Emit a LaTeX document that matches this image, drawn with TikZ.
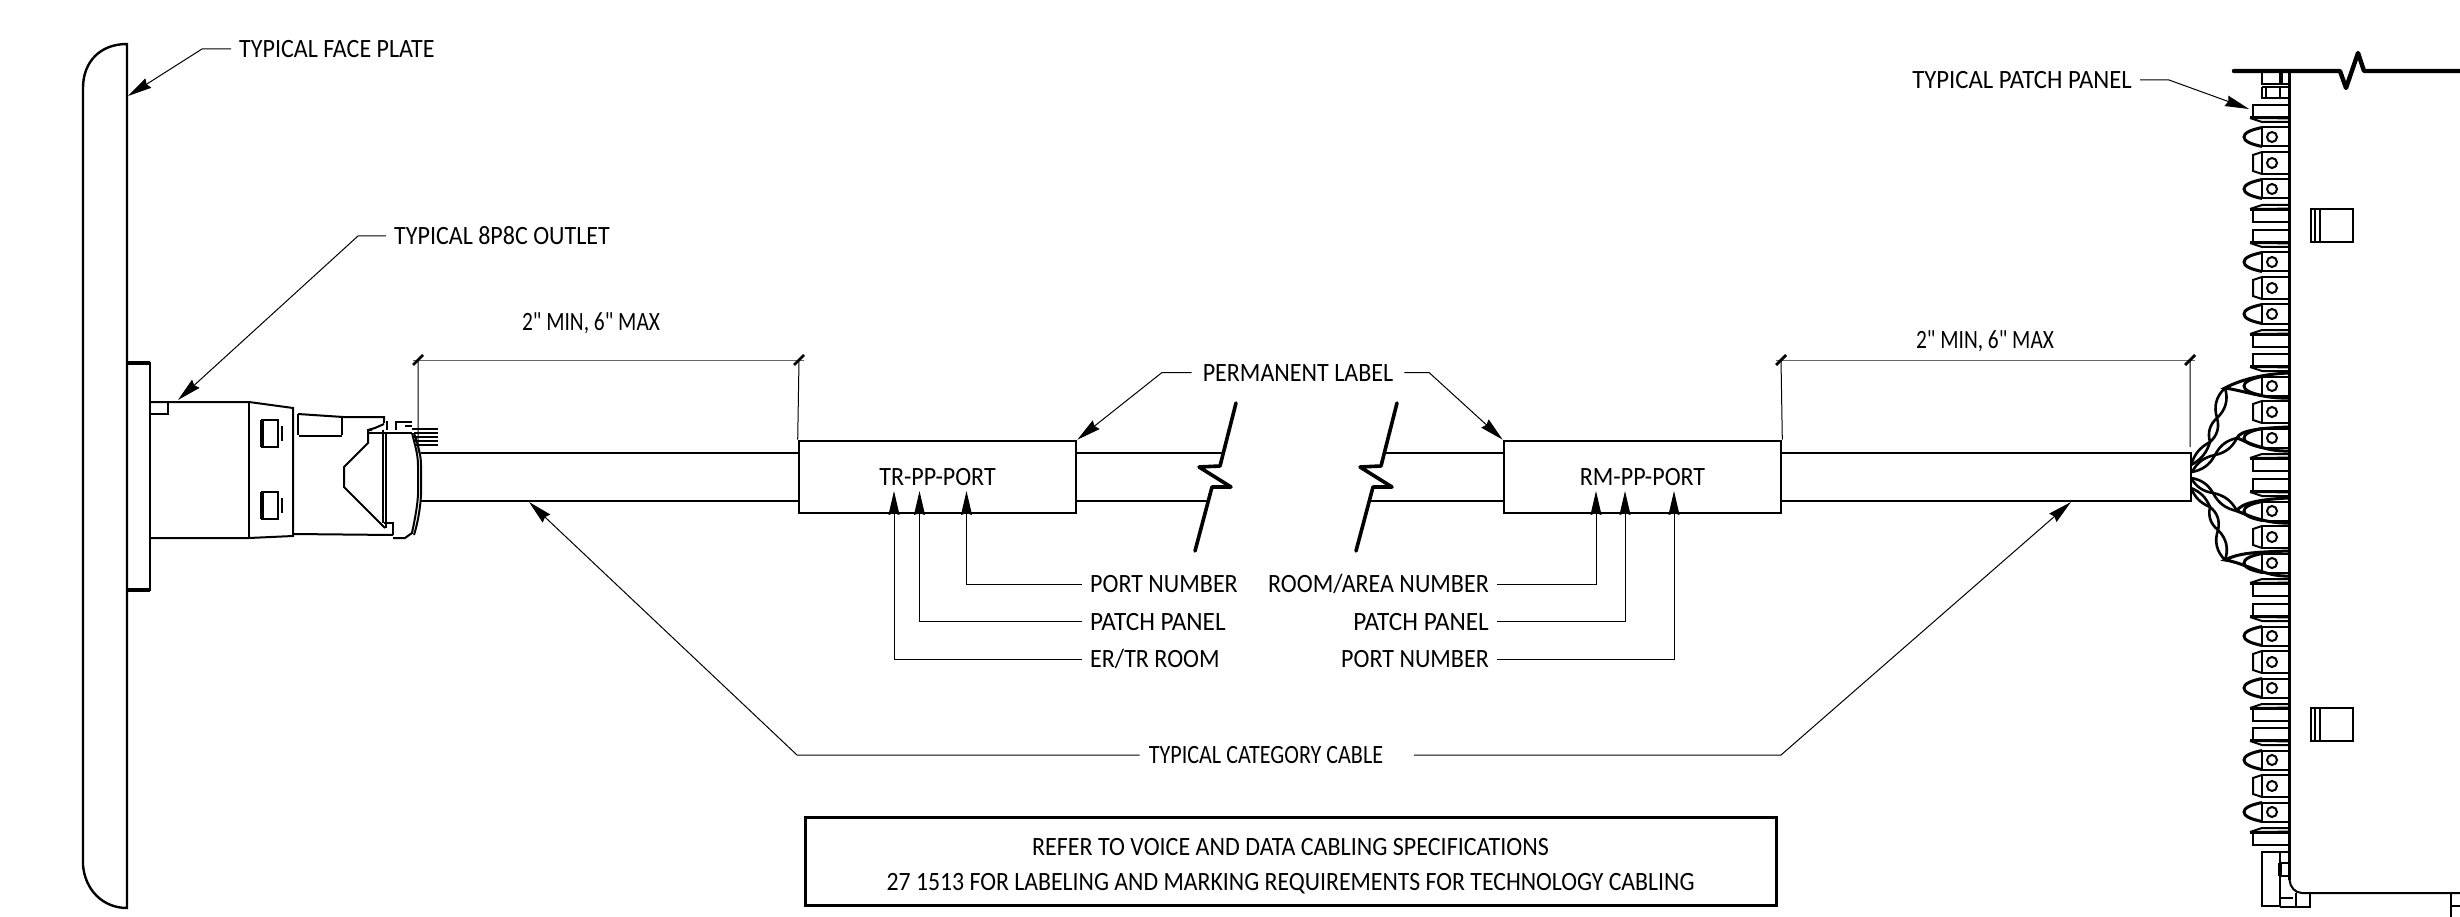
\documentclass[tikz,border=0pt]{standalone}
\usepackage{fontspec}
\setmainfont{Carlito}[Ligatures=TeXOff,FakeStretch=0.91]
\usetikzlibrary{arrows.meta}
\tikzset{
  lbl/.style={inner xsep=8pt,inner ysep=2pt,text height=17pt,text depth=0pt,font=\fontsize{26.4}{30}\selectfont},
  leader/.style={line width=1pt,-{Stealth[length=24pt,width=11pt,inset=2pt]}},
  plain/.style={line width=1pt},
  part/.style={line width=2pt,line join=miter},
  heavy/.style={line width=3.6pt,line join=round,line cap=round},
  labelbox/.style={draw,line width=2.6pt,minimum width=277pt,minimum height=72pt,inner sep=0pt,font=\fontsize{26.4}{30}\selectfont,text height=17pt,text depth=0pt},
  notebox/.style={draw,line width=3pt,minimum width=971pt,minimum height=88pt,inner sep=0pt},
  moda/.pic={\draw[part] (2289,-6) -- (2253,-6) -- (2253,6) -- (2289,6);
    \draw[part] (2250,7) -- (2262,11) -- (2289,11); \draw[line width=2.8pt] (2250,6.5) -- (2289,7);},
  modb/.pic={\draw[part] (2289,-9.5) -- (2262,-9.5) -- (2262,9.5) -- (2289,9.5);
    \draw[line width=3pt] (2262,-9.5) .. controls (2250,-7) and (2244,-4) .. (2244,0) .. controls (2244,4) and (2250,7) .. (2262,9.5);
    \draw[part] (2272,0) circle[radius=5];},
  modc/.pic={\draw[part] (2289,-11) -- (2262,-11) -- (2262,11) -- (2289,11);
    \draw[part] (2262,-11) -- (2253,-8) -- (2253,8) -- (2262,11);
    \draw[part] (2272,0) circle[radius=5];}
}
\begin{document}
\begin{tikzpicture}[x=1pt,y=-1pt]
\useasboundingbox (0,0) rectangle (2460,917);

% face plate
\draw[line width=2.4pt] (127,44) .. controls (100,44) and (83,62) .. (83,88) -- (83,865) .. controls (85,890) and (103,908) .. (127,908) -- cycle;
\draw[part] (127,363) -- (149.5,363) -- (149.5,590) -- (127,590);
\draw[line width=3.4pt] (127,363) -- (149.5,363) (127,590) -- (149.5,590);

% outlet
\draw[part] (150,402) -- (249,402) -- (293,408) -- (293,536) -- (249,538) -- (150,538);
\draw[part] (249,402) -- (249,538);
\draw[part] (150,414) -- (168,414) -- (168,402);
\draw[line width=2.4pt] (262,420) rectangle (278,447) (262,492) rectangle (278,519);
\draw[line width=3.6pt] (262,420) -- (262,447) (262,492) -- (262,519);
\draw[line width=2.8pt] (282,426) -- (282,441) (282,498) -- (282,513);
\draw[line width=2.8pt] (298,414) -- (298,435) (342,417) -- (342,435) (299,436) -- (342,436);
\draw[part] (298,414) -- (343,417) -- (384,417) -- (384,423);
\draw[part] (383,430) -- (383,523) (386,433) -- (386,528);
\draw[part] (293,534) -- (393,535);
\draw[part] (372,430) -- (368,430) -- (368,443) -- (344,467) -- (344,487) -- (385,528);
\draw[part] (368,430) -- (375,428) -- (384,424);
\draw[part] (368,433) -- (412,433);
\draw[part] (387,421) -- (387,430) (396,421) -- (396,430) (396,422) -- (412,422) (405,426) -- (412,426);
\draw[part] (412,433) .. controls (415,445) and (418,455) .. (418,465) -- (418,495) .. controls (417,510) and (414,523) .. (412,533) -- (405,538) -- (393,538);
\draw[part] (414,433) .. controls (418,445) and (421,455) .. (421,465) -- (421,495) .. controls (420,512) and (417,525) .. (414,535);
\draw[part] (384,523) -- (393,523) -- (393,535);
\draw[line width=2.8pt] (412,429) -- (438,429) (414,433) -- (438,433) (414,437) -- (438,437) (414,441) -- (438,441) (416,445) -- (438,445);

% cables
\node[labelbox] (tr) at (937.5,477) {TR-PP-PORT};
\node[labelbox] (rm) at (1642.5,477) {RM-PP-PORT};
\draw[part] (421,452.5) -- (tr.west |- 0,452.5) (421,500.5) -- (tr.west |- 0,500.5);
\draw[part] (tr.east |- 0,452.5) -- (1224,452.5) (tr.east |- 0,500.5) -- (1208,500.5);
\draw[part] (rm.west |- 0,452.5) -- (1385,452.5) (rm.west |- 0,500.5) -- (1369,500.5);
\draw[part] (rm.east |- 0,452.5) -- (2191,452.5) -- (2191,500.5) -- (rm.east |- 0,500.5);

% break marks
\draw[heavy] (1236,403) -- (1220,466) -- (1199,467) -- (1231,487) -- (1212,487) -- (1195,551);
\draw[heavy] (1397,403) -- (1381,466) -- (1360,467) -- (1392,487) -- (1373,487) -- (1356,551);

% dimensions
\coordinate (d1a) at (418,360); \coordinate (d1b) at (799,360);
\coordinate (d2a) at (1781,360); \coordinate (d2b) at (2190,360);
\draw[plain,black!60] ([xshift=-5pt]d1a) -- ([xshift=5pt]d1b);
\draw[plain,black!60] ([xshift=-5pt]d2a) -- ([xshift=5pt]d2b);
\draw[plain] (d1a) -- (418,453) (d1b) -- (tr.north west) (d2a) -- (rm.north east) (d2b) -- (2190,447);
\foreach \c in {d1a,d1b,d2a,d2b}
  \draw[line width=2.8pt] ([shift={(-5,5)}]\c) -- ([shift={(5,-5)}]\c);
\node[lbl] (dim1) at (591,322) {\scalebox{0.89}[1]{2" MIN, 6" MAX}};
\node[lbl] (dim2) at (1985,340) {\scalebox{0.89}[1]{2" MIN, 6" MAX}};

% labels and leaders
\node[lbl,anchor=west] (face) at (231,49) {TYPICAL FACE PLATE};
\coordinate (faceb) at (202,49); \coordinate (facet) at (128,96);
\draw[leader] (face.west) -- (faceb) -- (facet);
\node[lbl,anchor=west] (outl) at (386,236) {TYPICAL 8P8C OUTLET};
\coordinate (outb) at (358,236); \coordinate (outt) at (178,400);
\draw[leader] (outl.west) -- (outb) -- (outt);
\node[lbl,anchor=east] (ppl) at (2140,80) {\scalebox{1.03}[1]{TYPICAL PATCH PANEL}};
\coordinate (ppb) at (2169,80); \coordinate (ppt) at (2249,109);
\draw[leader] (ppl.east) -- (ppb) -- (ppt);
\node[lbl,inner xsep=11pt] (perm) at (1298,372.5) {PERMANENT LABEL};
\coordinate (pb1) at (1162,372.5); \coordinate (pb2) at (1429,372.5);
\draw[leader] (perm.west) -- (pb1) -- (tr.north east);
\draw[leader] (perm.east) -- (pb2) -- (rm.north west);

\node[lbl,anchor=west] (l1) at (1082,584) {PORT NUMBER};
\node[lbl,anchor=west] (l2) at (1082,621.5) {\scalebox{1.05}[1]{PATCH PANEL}};
\node[lbl,anchor=west] (l3) at (1082,659) {ER/TR ROOM};
\coordinate (t1) at (966.5,491); \coordinate (t2) at (919.5,491); \coordinate (t3) at (894,491);
\draw[leader] (l1.west) -| (t1);
\draw[leader] (l2.west) -| (t2);
\draw[leader] (l3.west) -| (t3);
\node[lbl,anchor=east] (r1) at (1497,584) {ROOM/AREA NUMBER};
\node[lbl,anchor=east] (r2) at (1497,621.5) {\scalebox{1.05}[1]{PATCH PANEL}};
\node[lbl,anchor=east] (r3) at (1497,659) {PORT NUMBER};
\coordinate (u1) at (1596,491); \coordinate (u2) at (1625,491); \coordinate (u3) at (1674,491);
\draw[leader] (r1.east) -| (u1);
\draw[leader] (r2.east) -| (u2);
\draw[leader] (r3.east) -| (u3);

\node[lbl,inner xsep=9pt] (cat) at (1266,755) {\scalebox{0.92}[1]{TYPICAL CATEGORY CABLE}};
\coordinate (cb1) at (797,755); \coordinate (cb2) at (1781,755);
\coordinate (cs2) at (1414,755);
\coordinate (ct1) at (529,502); \coordinate (ct2) at (2071,502);
\draw[leader] (cat.west) -- (cb1) -- (ct1);
\draw[leader] (cs2) -- (cb2) -- (ct2);

\node[notebox] (note) at (1290.5,861) {};
\node[lbl,inner sep=0pt] (note1) at (1290.5,847) {REFER TO VOICE AND DATA CABLING SPECIFICATIONS};
\node[lbl,inner sep=0pt] (note2) at (1290.5,881.5) {\scalebox{0.99}[1]{27 1513 FOR LABELING AND MARKING REQUIREMENTS FOR TECHNOLOGY CABLING}};

% patch panel
\draw[line width=3.4pt] (2289.5,71) -- (2289.5,880);
\draw[part] (2289.5,880) .. controls (2290,887) and (2295,893) .. (2302,893) -- (2460,893);
\draw[part] (2451,893) -- (2451,906) -- (2460,906) (2451,906) -- (2451,917);
\draw[line width=4.4pt,line cap=round,line join=round] (2234,71) -- (2340,71) -- (2346,88) -- (2358,53) -- (2364,71) -- (2460,71);
\draw[part] (2262,71) -- (2262,84) -- (2280,84) -- (2280,71) (2282,71) -- (2282,84) -- (2289,84);
\draw[part] (2262,87) -- (2289,87) (2262,87) -- (2262,98) -- (2289,98) (2266,87) -- (2266,98) (2280,87) -- (2280,98);
\foreach \y in {111,236,360,485,610,734} {
  \pic at (0,\y) {moda};
  \pic at (0,\y+26) {modb};
  \pic at (0,\y+52) {modc};
  \pic at (0,\y+78) {modb};
  \pic[yscale=-1] at (0,\y+105) {moda};
}
\foreach \y in {209,708} {
  \draw[line width=2.8pt] (2311,\y) rectangle (2353,\y+33);
  \draw[part] (2315,\y) -- (2315,\y+33) (2320,\y) -- (2320,\y+33);
}
% panel foot
\draw[part] (2262,852) rectangle (2280,906);
\draw[part] (2280,852) -- (2289,852) (2280,863) -- (2289,863) (2280,876) -- (2289,876);
\draw[line width=3.4pt] (2280,863) -- (2280,876);
\draw[part] (2280,898) -- (2293,898) (2296,893) -- (2296,907) (2280,907) -- (2310,907) -- (2310,893);

% wire forks
\foreach \ax/\ay/\by/\cy in {2225/388/373/398, 2237/438/427/451, 2237/511/498/523, 2225/560/551/576} {
  \draw[line width=3pt] (2289,\by) .. controls (2262,\by+1) and (2240,\ay-8) .. (\ax,\ay) .. controls (2245,\ay+3) and (2265,\cy+1) .. (2289,\cy);
}
% twisted pairs
\tikzset{pair/.style={line width=2.6pt}}
\draw[pair] (2225,388) to[bend left=32] (2217,418) to[bend right=32] (2210,442) to[bend left=22] (2191,465);
\draw[pair] (2225,388) to[bend right=32] (2217,418) to[bend left=32] (2210,442) to[bend right=22] (2191,465);
\draw[pair] (2237,438) to[bend left=25] (2215,455) to[bend right=25] (2192,472);
\draw[pair] (2237,438) to[bend right=25] (2215,455) to[bend left=25] (2192,472);
\draw[pair] (2237,511) to[bend left=25] (2213,493) to[bend right=25] (2191,478);
\draw[pair] (2237,511) to[bend right=25] (2213,493) to[bend left=25] (2191,478);
\draw[pair] (2225,560) to[bend left=32] (2218,530) to[bend right=32] (2210,507) to[bend left=22] (2191,488);
\draw[pair] (2225,560) to[bend right=32] (2218,530) to[bend left=32] (2210,507) to[bend right=22] (2191,488);
\end{tikzpicture}
\end{document}
